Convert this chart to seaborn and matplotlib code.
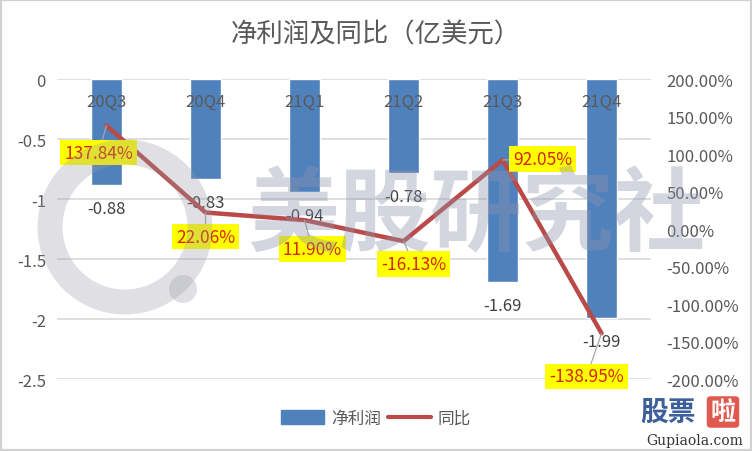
import numpy as np
import pandas as pd
import matplotlib
matplotlib.use("Agg")
import matplotlib.pyplot as plt
from matplotlib.patches import Ellipse, Rectangle
from matplotlib.lines import Line2D
from matplotlib.transforms import blended_transform_factory
import seaborn as sns

quarters = ["20Q3", "20Q4", "21Q1", "21Q2", "21Q3", "21Q4"]
net_profit = [-0.88, -0.83, -0.94, -0.78, -1.69, -1.99]
yoy = [137.84, 22.06, 11.90, -16.13, 92.05, -138.95]
left_ticks = [0, -0.5, -1, -1.5, -2, -2.5]
right_ticks = [200, 150, 100, 50, 0, -50, -100, -150, -200]

sns.set_theme(style="white")
plt.rcParams['font.family'] = ['Noto Sans CJK SC', 'DejaVu Sans']

BLUE = "#4f81bd"
RED = "#b94a48"
GRAY = "#595959"

df = pd.DataFrame({"q": quarters, "pos": np.arange(len(quarters)),
                   "np": net_profit, "yoy": yoy})

fig = plt.figure(figsize=(7.52, 4.52), dpi=100)
ax = fig.add_axes([0.0758, 0.159, 0.79, 0.664])

sns.barplot(data=df, x="q", y="np", color=BLUE, width=0.31, ax=ax,
            saturation=1, zorder=2)
ax.set_ylim(-2.5, 0)
ax.set_yticks(left_ticks)
ax.set_yticklabels(["0", "-0.5", "-1", "-1.5", "-2", "-2.5"])
ax.yaxis.grid(True, color="#d9d9d9", linewidth=1.2, zorder=0)
ax.set_axisbelow(True)
ax.set_xlim(-0.5, len(quarters) - 0.5)
ax.set_xticks([])
ax.set_xlabel("")
ax.set_ylabel("")
for s in ax.spines.values():
    s.set_visible(False)
ax.tick_params(axis="y", length=0, pad=8, labelsize=12, labelcolor=GRAY)

# category labels inside the top of the plot
tr = blended_transform_factory(ax.transData, ax.transAxes)
for i, q in enumerate(quarters):
    ax.text(i, 0.925, q, transform=tr, ha="center", va="center",
            fontsize=12, color=GRAY, zorder=5)

# bar value labels
for i, v in enumerate(net_profit):
    ax.annotate(f"{v:.2f}", (i, v), xytext=(0, -24), textcoords="offset pixels",
                ha="center", va="center", fontsize=12, color="#404040",
                zorder=5)

ax2 = ax.twinx()
sns.lineplot(data=df, x="pos", y="yoy", color=RED, linewidth=3.2, ax=ax2,
             zorder=3)
ax2.set_ylim(-200, 200)
ax2.set_yticks(right_ticks)
ax2.set_yticklabels([f"{t:.2f}%" for t in right_ticks])
ax2.set_xlim(-0.5, len(quarters) - 0.5)
ax2.set_ylabel("")
ax2.set_xlabel("")
ax2.set_xticks([])
for s in ax2.spines.values():
    s.set_visible(False)
ax2.tick_params(axis="y", length=0, pad=11, labelsize=12, labelcolor=GRAY)

offsets = [(-8, -27), (0, -24), (8, -29), (10, -23), (40, 1), (-15, -43)]
for i, (v, off) in enumerate(zip(yoy, offsets)):
    ax2.annotate(f"{v:.2f}%", (i, v), xytext=off, textcoords="offset pixels",
                 ha="center", va="center", fontsize=12.5, color="#d42a00",
                 bbox=dict(boxstyle="square,pad=0.22", fc="#ffff00", ec="none"),
                 arrowprops=dict(arrowstyle="-", color="#a6a6a6", lw=0.9,
                                 shrinkA=0, shrinkB=0),
                 zorder=6)

# title
fig.text(0.5, 0.922, "净利润及同比（亿美元）", ha="center", va="center",
         fontsize=19, color=GRAY, fontweight="light")

# legend
handles = [Rectangle((0, 0), 1, 1, color=BLUE),
           Line2D([0], [0], color=RED, lw=3)]
fig.legend(handles, ["净利润", "同比"], loc="center", bbox_to_anchor=(0.5, 0.072),
           ncol=2, frameon=False, fontsize=12, labelcolor=GRAY,
           handlelength=2.6, handleheight=0.9, columnspacing=0.4,
           handletextpad=0.4)

# watermark decorations
W, H = 752, 452
ring = Ellipse((125 / W, 1 - 228 / H), 150 / W, 150 / H, transform=fig.transFigure,
               fill=False, ec="#9a9aa6", lw=18, alpha=0.3, zorder=10)
fig.add_artist(ring)
dot = Ellipse((183 / W, 1 - 290 / H), 28 / W, 28 / H, transform=fig.transFigure,
              fc="#9a9aa6", ec="none", alpha=0.3, zorder=10)
fig.add_artist(dot)
fig.text(476 / W, 1 - 216 / H, "美股研究社", ha="center", va="center",
         fontsize=66, fontweight="bold", color="#8f94ab", alpha=0.38, zorder=10)

fig.text(668 / W, 1 - 413 / H, "股票", ha="center", va="center", fontsize=20,
         fontweight="bold", color="#3d5f9a", zorder=11)
fig.text(723 / W, 1 - 413 / H, "啦", ha="center", va="center", fontsize=18,
         fontweight="bold", color="white", zorder=12,
         bbox=dict(boxstyle="round,pad=0.15", fc="#e05a4f", ec="none"))
fig.text(695 / W, 1 - 441 / H, "Gupiaola.com", ha="center", va="center",
         fontsize=10, color="#333333", family="DejaVu Serif", zorder=11)

# outer frame
fig.add_artist(Rectangle((0, 0), 1, 1, transform=fig.transFigure, fill=False,
                         ec="#d0d0d0", lw=3, zorder=20))

fig.savefig("out.png", dpi=100)
